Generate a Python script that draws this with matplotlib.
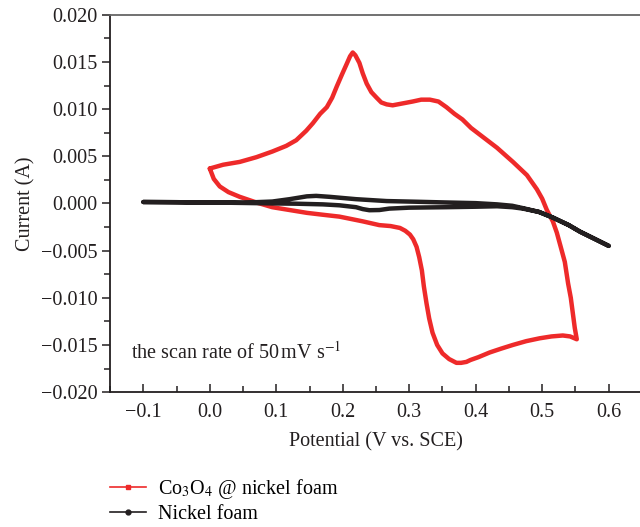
import matplotlib.pyplot as plt
from matplotlib.lines import Line2D
from matplotlib.ticker import MultipleLocator

plt.rcParams['font.family'] = ['Liberation Serif', 'DejaVu Serif']
plt.rcParams['mathtext.fontset'] = 'stix'

# Co3O4 @ nickel foam CV loop (anodic then cathodic)
co_v = [0.000, 0.020, 0.045, 0.070, 0.094, 0.115, 0.130, 0.145, 0.155, 0.166, 0.176,
        0.184, 0.191, 0.199, 0.206, 0.211, 0.215, 0.219, 0.225, 0.230, 0.236, 0.243,
        0.251, 0.258, 0.266, 0.275, 0.290, 0.305, 0.318, 0.331, 0.344, 0.356, 0.368,
        0.380, 0.393, 0.406, 0.432, 0.456, 0.477, 0.492, 0.500, 0.507, 0.516, 0.522,
        0.529, 0.534, 0.539, 0.543, 0.546, 0.549, 0.552,
        0.542, 0.531, 0.514, 0.496, 0.476, 0.456, 0.438, 0.421, 0.404, 0.392, 0.386,
        0.378, 0.371, 0.360, 0.350, 0.342, 0.335, 0.330, 0.326, 0.322, 0.319, 0.315,
        0.311, 0.306, 0.301, 0.294, 0.286, 0.272, 0.255, 0.230, 0.195, 0.170, 0.146,
        0.120, 0.094, 0.070, 0.045, 0.028, 0.015, 0.006, 0.000]
co_i = [0.0037, 0.0041, 0.0044, 0.0049, 0.0055, 0.0061, 0.0067, 0.0077, 0.0085, 0.0095, 0.0102,
        0.0112, 0.0124, 0.0137, 0.0148, 0.0156, 0.0160, 0.0157, 0.0149, 0.0138, 0.0127, 0.0118,
        0.0112, 0.0107, 0.0105, 0.0104, 0.0106, 0.0108, 0.0110, 0.0110, 0.0108, 0.0102, 0.0095,
        0.0089, 0.0080, 0.0073, 0.0059, 0.0044, 0.0030, 0.0015, 0.0005, -0.0007, -0.0019, -0.0031,
        -0.0049, -0.0062, -0.0085, -0.0100, -0.0116, -0.0132, -0.0144,
        -0.0141, -0.0140, -0.0141, -0.0143, -0.0146, -0.0150, -0.0154, -0.0158, -0.0163, -0.0166, -0.0168,
        -0.0169, -0.0169, -0.0165, -0.0159, -0.0150, -0.0137, -0.0122, -0.0106, -0.0088, -0.0071, -0.0057,
        -0.0046, -0.0038, -0.0033, -0.0029, -0.0026, -0.0024, -0.0023, -0.0019, -0.0014, -0.0012, -0.0010,
        -0.0007, -0.0004, 0.0001, 0.0007, 0.0012, 0.0018, 0.0026, 0.0037]

# bare nickel foam CV loop
ni_v = [-0.100, -0.050, 0.000, 0.050, 0.094, 0.120, 0.146, 0.160, 0.180, 0.220, 0.266,
        0.310, 0.356, 0.400, 0.432, 0.455, 0.471, 0.495, 0.516, 0.540, 0.557, 0.580, 0.600,
        0.580, 0.557, 0.540, 0.516, 0.495, 0.471, 0.455, 0.432, 0.400, 0.356, 0.300, 0.270,
        0.255, 0.240, 0.230, 0.220, 0.195, 0.170, 0.130, 0.094, 0.050, 0.000, -0.050, -0.100]
ni_i = [0.00015, 0.00013, 0.00010, 0.00008, 0.00020, 0.00045, 0.00075, 0.00080, 0.00070, 0.00045, 0.00025,
        0.00018, 0.00010, 0.00003, -0.00010, -0.00025, -0.00050, -0.00090, -0.00150, -0.00230, -0.00300, -0.00380, -0.00450,
        -0.00380, -0.00300, -0.00230, -0.00150, -0.00090, -0.00055, -0.00040, -0.00030, -0.00035, -0.00040, -0.00045, -0.00055,
        -0.00070, -0.00072, -0.00060, -0.00040, -0.00020, -0.00010, -0.00003, 0.00000, 0.00005, 0.00010, 0.00013, 0.00015]

red = '#ee2a2a'
black = '#231f20'

fig = plt.figure(figsize=(6.4, 5.27), dpi=100)
ax = fig.add_axes([0.172, 0.256, 0.831, 0.716])

ax.plot(co_v, co_i, color=red, lw=3.2, solid_joinstyle='round', solid_capstyle='round')
ax.plot(ni_v, ni_i, color=black, lw=3.2, solid_joinstyle='round', solid_capstyle='round')

ax.set_xlim(-0.15, 0.65)
ax.set_ylim(-0.020, 0.020)
ax.xaxis.set_major_locator(MultipleLocator(0.1))
ax.xaxis.set_minor_locator(MultipleLocator(0.05))
ax.yaxis.set_major_locator(MultipleLocator(0.005))
ax.yaxis.set_minor_locator(MultipleLocator(0.0025))
ax.xaxis.set_major_formatter(plt.FuncFormatter(lambda v, p: f'{v:.1f}'.replace('-', '\u2212')))
ax.yaxis.set_major_formatter(plt.FuncFormatter(lambda v, p: f'{v:.3f}'.replace('-', '\u2212')))

ax.spines['right'].set_visible(False)
for s in ['left', 'bottom']:
    ax.spines[s].set_color(black)
    ax.spines[s].set_linewidth(1.3)
ax.spines['top'].set_color('#666666')
ax.spines['top'].set_linewidth(1.3)
ax.tick_params(which='both', colors=black, labelsize=14.5, width=1.1)
ax.tick_params(axis='x', which='both', direction='in', pad=8)
ax.tick_params(axis='y', which='both', direction='out', pad=3)
ax.tick_params(which='major', length=6)
ax.tick_params(which='minor', length=4)
ax.tick_params(top=False, right=False)

ax.set_xlabel('Potential (V vs. SCE)', fontsize=14.5, color=black, labelpad=7)
ax.set_ylabel('Current (A)', fontsize=14.5, color=black, labelpad=4)

ax.text(-0.118, -0.0158, 'the scan rate of 50$\\,$mV s$^{-1}$', fontsize=14.5,
        color=black, va='center', ha='left')

handles = [
    Line2D([], [], color=red, lw=1.2, marker='s', markersize=3.5),
    Line2D([], [], color=black, lw=1.2, marker='o', markersize=3.5),
]
labels = ['Co$_3$O$_4$ @ nickel foam', 'Nickel foam']
fig.legend(handles, labels, loc='upper left', bbox_to_anchor=(0.16, 0.11),
           frameon=False, fontsize=14.5, handlelength=1.75, handletextpad=0.6,
           labelspacing=0.2, borderaxespad=0)

plt.savefig('out.png', dpi=100)
